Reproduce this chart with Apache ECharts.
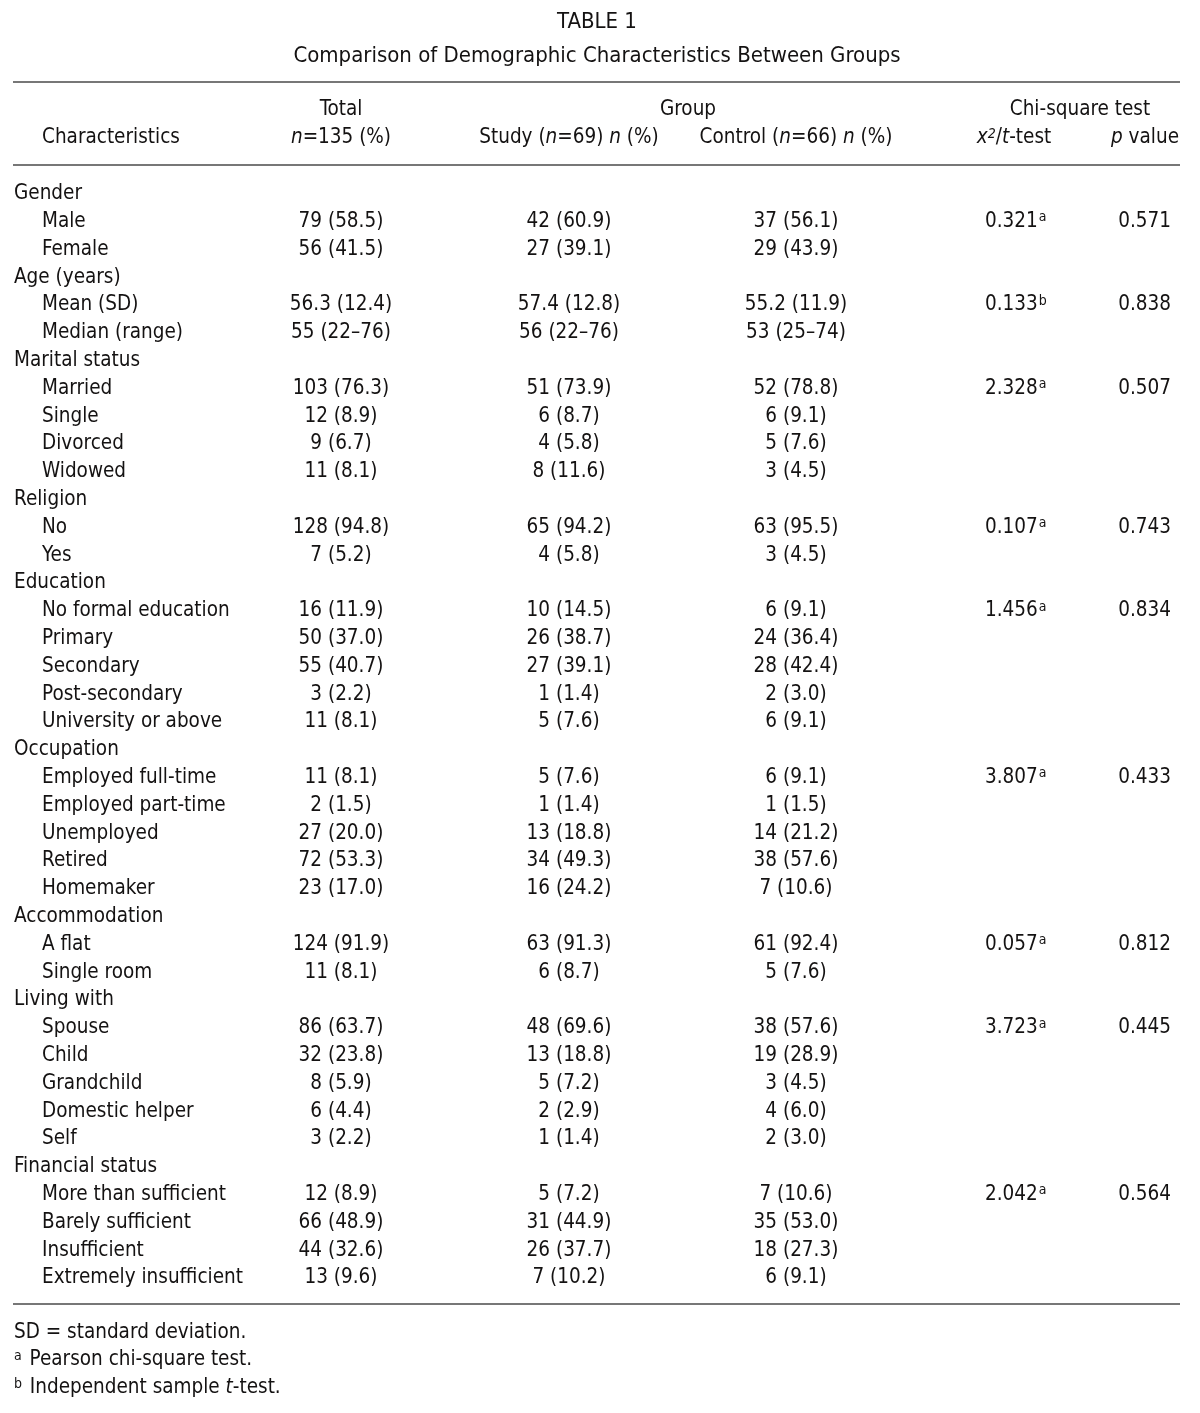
<!DOCTYPE html>
<html>
<head>
<meta charset="utf-8">
<script src="https://cdn.jsdelivr.net/npm/echarts@6/dist/echarts.min.js"></script>
<style>
html,body{margin:0;padding:0;background:#fff;}
#chart{width:1200px;height:1413px;}
</style>
</head>
<body>
<div id="chart"></div>
<script>
// ---------- DATA ----------
const characteristics = [
  'Gender','Male','Female',
  'Age (years)','Mean (SD)','Median (range)',
  'Marital status','Married','Single','Divorced','Widowed',
  'Religion','No','Yes',
  'Education','No formal education','Primary','Secondary','Post-secondary','University or above',
  'Occupation','Employed full-time','Employed part-time','Unemployed','Retired','Homemaker',
  'Accommodation','A flat','Single room',
  'Living with','Spouse','Child','Grandchild','Domestic helper','Self',
  'Financial status','More than sufficient','Barely sufficient','Insufficient','Extremely insufficient'
];
const totalCol = ['', '79 (58.5)', '56 (41.5)', '', '56.3 (12.4)', '55 (22–76)', '', '103 (76.3)', '12 (8.9)', '9 (6.7)', '11 (8.1)', '', '128 (94.8)', '7 (5.2)', '', '16 (11.9)', '50 (37.0)', '55 (40.7)', '3 (2.2)', '11 (8.1)', '', '11 (8.1)', '2 (1.5)', '27 (20.0)', '72 (53.3)', '23 (17.0)', '', '124 (91.9)', '11 (8.1)', '', '86 (63.7)', '32 (23.8)', '8 (5.9)', '6 (4.4)', '3 (2.2)', '', '12 (8.9)', '66 (48.9)', '44 (32.6)', '13 (9.6)'];
const studyCol = ['', '42 (60.9)', '27 (39.1)', '', '57.4 (12.8)', '56 (22–76)', '', '51 (73.9)', '6 (8.7)', '4 (5.8)', '8 (11.6)', '', '65 (94.2)', '4 (5.8)', '', '10 (14.5)', '26 (38.7)', '27 (39.1)', '1 (1.4)', '5 (7.6)', '', '5 (7.6)', '1 (1.4)', '13 (18.8)', '34 (49.3)', '16 (24.2)', '', '63 (91.3)', '6 (8.7)', '', '48 (69.6)', '13 (18.8)', '5 (7.2)', '2 (2.9)', '1 (1.4)', '', '5 (7.2)', '31 (44.9)', '26 (37.7)', '7 (10.2)'];
const controlCol = ['', '37 (56.1)', '29 (43.9)', '', '55.2 (11.9)', '53 (25–74)', '', '52 (78.8)', '6 (9.1)', '5 (7.6)', '3 (4.5)', '', '63 (95.5)', '3 (4.5)', '', '6 (9.1)', '24 (36.4)', '28 (42.4)', '2 (3.0)', '6 (9.1)', '', '6 (9.1)', '1 (1.5)', '14 (21.2)', '38 (57.6)', '7 (10.6)', '', '61 (92.4)', '5 (7.6)', '', '38 (57.6)', '19 (28.9)', '3 (4.5)', '4 (6.0)', '2 (3.0)', '', '7 (10.6)', '35 (53.0)', '18 (27.3)', '6 (9.1)'];
const testStat = ['', '0.321', '', '', '0.133', '', '', '2.328', '', '', '', '', '0.107', '', '', '1.456', '', '', '', '', '', '3.807', '', '', '', '', '', '0.057', '', '', '3.723', '', '', '', '', '', '2.042', '', '', ''];
const testNote = ['', 'a', '', '', 'b', '', '', 'a', '', '', '', '', 'a', '', '', 'a', '', '', '', '', '', 'a', '', '', '', '', '', 'a', '', '', 'a', '', '', '', '', '', 'a', '', '', ''];
const pValue = ['', '0.571', '', '', '0.838', '', '', '0.507', '', '', '', '', '0.743', '', '', '0.834', '', '', '', '', '', '0.433', '', '', '', '', '', '0.812', '', '', '0.445', '', '', '', '', '', '0.564', '', '', ''];
const titleText = 'TABLE 1';
const subtitleText = 'Comparison of Demographic Characteristics Between Groups';
const footnotes = ['SD = standard deviation.', 'Pearson chi-square test.', 'Independent sample t-test.'];

// ---------- LAYOUT ----------
const FONT = '"Liberation Sans Narrow", "DejaVu Sans Condensed", "Open Sans", sans-serif';
const FS = 20.5;
const INK = '#141212';
const RULE = '#4a4a4a';
const col = {groupX: 14, itemX: 42, total: 341, study: 569, control: 796, stat: 985, p: 1171};

const chart = echarts.init(document.getElementById('chart'), null, {renderer: 'canvas'});

const supStyle = {fontFamily: FONT, fontSize: 14, color: INK, verticalAlign: 'top', lineHeight: 14, padding: [0, 0, 0, 1]};

function cellSeries(name, xPos, values, align, fmt) {
  return {
    name, type: 'scatter', symbolSize: 0, silent: true,
    itemStyle: {opacity: 1},
    data: values.map((v, i) => v === '' ? null : {value: [typeof xPos === 'function' ? xPos(i) : xPos, characteristics[i]], txt: v, idx: i}).filter(d => d),
    label: {
      show: true, position: 'inside', align, verticalAlign: 'middle', opacity: 1,
      fontFamily: FONT, fontSize: FS, color: INK, offset: [0, 2],
      formatter: fmt || (p => p.data.txt),
      rich: {
        v: {fontFamily: FONT, fontSize: FS, color: INK, lineHeight: 22},
        sup: supStyle
      }
    }
  };
}

const baseText = {fontFamily: FONT, fontSize: FS, fill: INK};
const richHdr = {
  i: {fontFamily: FONT, fontSize: FS, fontStyle: 'italic', color: INK, lineHeight: 22},
  r: {fontFamily: FONT, fontSize: FS, color: INK, lineHeight: 22},
  s: {fontFamily: FONT, fontSize: 14, fontStyle: 'italic', color: INK, verticalAlign: 'top', lineHeight: 14},
  sup: {fontFamily: FONT, fontSize: 14, color: INK, verticalAlign: 'top', lineHeight: 14, padding: [0, 2, 0, 0]}
};
function txt(x, y, text, align, rich, size) {
  const st = Object.assign({}, baseText, {text, align: align || 'left', verticalAlign: 'middle'});
  if (rich) st.rich = rich;
  if (size) st.fontSize = size;
  return {type: 'text', x, y, style: st, silent: true};
}
function rule(y, x1, x2) {
  return {type: 'line', shape: {x1, y1: y, x2, y2: y}, style: {stroke: RULE, lineWidth: 1.5}, silent: true};
}

const option = {
  backgroundColor: '#ffffff',
  animation: false,
  grid: {left: 0, right: 0, top: 178, bottom: 123},
  xAxis: {type: 'value', min: 0, max: 1200, show: false},
  yAxis: {type: 'category', data: characteristics, inverse: true, show: false},
  series: [
    cellSeries('Characteristics', i => totalCol[i] === '' ? col.groupX : col.itemX, characteristics, 'left'),
    cellSeries('Total', col.total, totalCol, 'center'),
    cellSeries('Study', col.study, studyCol, 'center'),
    cellSeries('Control', col.control, controlCol, 'center'),
    cellSeries('Statistic', col.stat, testStat, 'left', p => '{v|' + p.data.txt + '}{sup|' + testNote[p.data.idx] + '}'),
    cellSeries('p value', col.p, pValue, 'right')
  ],
  graphic: [
    txt(597, 22, titleText, 'center', null, 22),
    txt(597, 56, subtitleText, 'center', null, 22),
    rule(82, 13, 1180),
    txt(341, 110, 'Total', 'center'),
    txt(688, 110, 'Group', 'center'),
    txt(1080, 110, 'Chi-square test', 'center'),
    txt(42, 138, 'Characteristics', 'left'),
    txt(341, 138, '{i|n}{r|=135 (%)}', 'center', richHdr),
    txt(569, 138, '{r|Study (}{i|n}{r|=69) }{i|n}{r| (%)}', 'center', richHdr),
    txt(796, 138, '{r|Control (}{i|n}{r|=66) }{i|n}{r| (%)}', 'center', richHdr),
    txt(1014, 138, '{i|x}{s|2}{r|/}{i|t}{r|-test}', 'center', richHdr),
    txt(1179, 138, '{i|p}{r| value}', 'right', richHdr),
    rule(165, 13, 1180),
    rule(1304, 13, 1180),
    txt(14, 1333, footnotes[0], 'left'),
    txt(14, 1360, '{sup|a}{r| ' + footnotes[1] + '}', 'left', richHdr),
    txt(14, 1388, '{sup|b}{r| Independent sample }{i|t}{r|-test.}', 'left', richHdr)
  ]
};
chart.setOption(option);
</script>
</body>
</html>
